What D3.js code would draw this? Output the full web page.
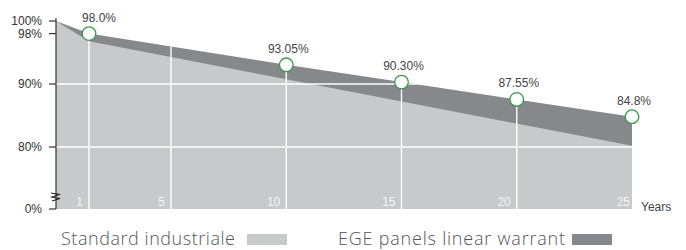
<!DOCTYPE html>
<html>
<head>
<meta charset="utf-8">
<script src="https://cdn.jsdelivr.net/npm/d3@7"></script>
<style>
  body { margin: 0; background: #fff; }
  svg { display: block; }
</style>
</head>
<body>
<div id="chart"></div>
<script>
// data
const standardYears = [0, 1, 25];
const standardValues = [100, 96.8, 80.2];
const egeYears = [0, 1, 10, 15, 20, 25];
const egeValues = [100, 98, 93.05, 90.30, 87.55, 84.8];
const labelYears = [1, 10, 15, 20, 25];
const labelTexts = ["98.0%", "93.05%", "90.30%", "87.55%", "84.8%"];
const yTicks = [0, 80, 90, 98, 100];
const xTicks = [1, 5, 10, 15, 20, 25];
const legendNames = ["Standard industriale", "EGE panels linear warrant"];

const width = 686, height = 250;
const lightGrey = "#c8c9cb", darkGrey = "#86888b";

const svg = d3.select("#chart").append("svg")
    .attr("width", width)
    .attr("height", height);

// axis is broken between 0% and 80%
const y = d3.scaleLinear().domain([0, 80, 100]).range([209, 147, 21]);
const x = d3.scaleLinear().domain([0, 1, 5, 25]).range([56, 89, 171, 632]);

const std = standardYears.map((d, i) => ({year: d, value: standardValues[i]}));
const ege = egeYears.map((d, i) => ({year: d, value: egeValues[i]}));

const area = d3.area()
    .x(d => x(d.year))
    .y0(y(0))
    .y1(d => y(d.value));

svg.append("path").datum(ege)
    .attr("fill", darkGrey)
    .attr("d", area);

svg.append("path").datum(std)
    .attr("fill", lightGrey)
    .attr("d", area);

// gridlines only show inside the filled shape
svg.append("clipPath").attr("id", "clip")
    .append("path").datum(ege).attr("d", area);

const grid = svg.append("g").attr("clip-path", "url(#clip)")
    .attr("stroke", "#fff")
    .attr("stroke-width", 1.4);

grid.selectAll("line.v").data(xTicks.filter(d => d < 25))
    .join("line")
    .attr("class", "v")
    .attr("x1", d => x(d)).attr("x2", d => x(d))
    .attr("y1", y(0)).attr("y2", y(100));

grid.selectAll("line.h").data([80, 90])
    .join("line")
    .attr("class", "h")
    .attr("x1", x(0)).attr("x2", x(25))
    .attr("y1", d => y(d)).attr("y2", d => y(d));

// x labels, white, inside the area
svg.append("g").selectAll("text").data(xTicks)
    .join("text")
    .attr("x", d => d == 25 ? x(d) - 2 : x(d) - 6)
    .attr("y", 206)
    .attr("text-anchor", "end")
    .attr("fill", "#fff")
    .attr("fill-opacity", 0.85)
    .style("font", "12px 'Liberation Sans', Arial, sans-serif")
    .text(d => d);

svg.append("text")
    .attr("x", 641).attr("y", 211)
    .attr("fill", "#444")
    .style("font", "12px 'Liberation Sans', Arial, sans-serif")
    .text("Years");

// y axis
const yAxis = svg.append("g").attr("transform", `translate(${x(0)},0)`);
yAxis.append("line")
    .attr("x1", 0).attr("x2", 0)
    .attr("y1", y(100) - 3).attr("y2", y(0))
    .attr("stroke", "#333").attr("stroke-width", 1.2);

yAxis.selectAll("line.tick").data(yTicks)
    .join("line")
    .attr("class", "tick")
    .attr("x1", -7).attr("x2", 0)
    .attr("y1", d => y(d)).attr("y2", d => y(d))
    .attr("stroke", "#333").attr("stroke-width", 1.2);

yAxis.selectAll("text").data(yTicks)
    .join("text")
    .attr("x", -14)
    .attr("y", d => y(d))
    .attr("dy", "0.35em")
    .attr("text-anchor", "end")
    .attr("fill", "#333")
    .style("font", "12px 'Liberation Sans', Arial, sans-serif")
    .text(d => d + "%");

// axis break mark
yAxis.append("path")
    .attr("d", "M-5,193 L3,194.5 L-4,197 L4,198.5 L-4,201")
    .attr("fill", "none")
    .attr("stroke", "#222")
    .attr("stroke-width", 1.2);

// warranted points
const pts = labelYears.map((d, i) => ({year: d, value: egeValues[egeYears.indexOf(d)], label: labelTexts[i]}));

svg.append("g").selectAll("circle").data(pts)
    .join("circle")
    .attr("cx", d => x(d.year))
    .attr("cy", d => y(d.value))
    .attr("r", 6.8)
    .attr("fill", "#fff")
    .attr("stroke", "#3a9a50")
    .attr("stroke-width", 1.3);

svg.append("g").selectAll("text").data(pts)
    .join("text")
    .attr("x", (d, i) => x(d.year) + (i == 0 ? 10 : 2))
    .attr("y", d => y(d.value) - 12)
    .attr("text-anchor", "middle")
    .attr("fill", "#444")
    .style("font", "12px 'Liberation Sans', Arial, sans-serif")
    .text(d => d.label);

// legend
const legend = svg.append("g")
    .style("font", "300 18px 'Open Sans', sans-serif")
    .attr("fill", "#555");

legend.append("text").attr("x", 61).attr("y", 245)
    .attr("textLength", 174).attr("lengthAdjust", "spacing")
    .text(legendNames[0]);
legend.append("rect").attr("x", 247).attr("y", 234).attr("width", 40).attr("height", 11).attr("fill", lightGrey);
legend.append("text").attr("x", 338).attr("y", 245)
    .attr("textLength", 227).attr("lengthAdjust", "spacing")
    .text(legendNames[1]);
legend.append("rect").attr("x", 572).attr("y", 234).attr("width", 40).attr("height", 11).attr("fill", darkGrey);
</script>
</body>
</html>
